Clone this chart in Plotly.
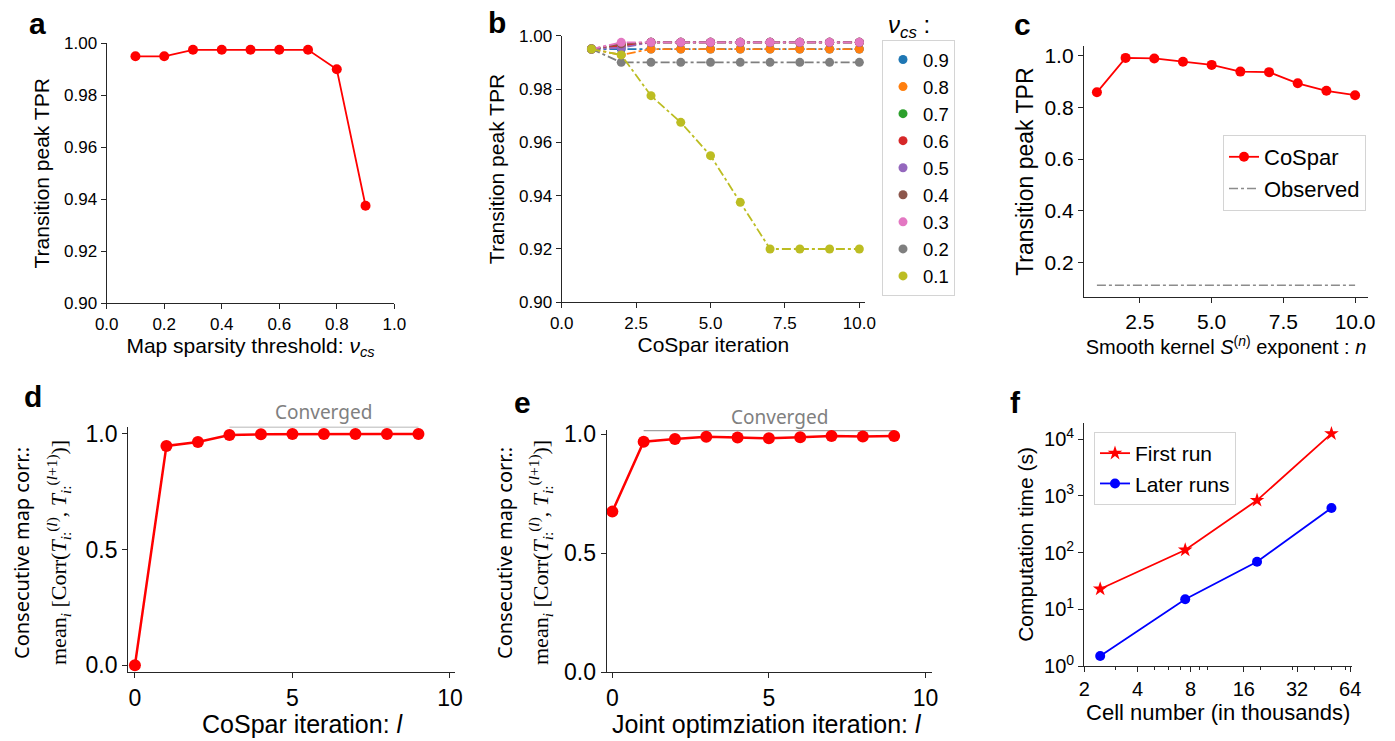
import plotly.graph_objects as go

W, H = 1395, 741
SANS = "Liberation Sans, Arial, sans-serif"
SEG = "Noto Sans, Open Sans, sans-serif"
SERIF = "Liberation Serif, DejaVu Serif, serif"

# ---------------- data ----------------
# Panel a
sparsity_thresholds = [0.1, 0.2, 0.3, 0.4, 0.5, 0.6, 0.7, 0.8, 0.9]
tpr_vs_threshold = [0.995, 0.995, 0.9975, 0.9975, 0.9975, 0.9975, 0.9975, 0.990, 0.9375]

# Panel b
cospar_iterations = [1, 2, 3, 4, 5, 6, 7, 8, 9, 10]
threshold_labels = ["0.9", "0.8", "0.7", "0.6", "0.5", "0.4", "0.3", "0.2", "0.1"]
tpr_nu_09 = [0.995, 0.995, 0.995, 0.995, 0.995, 0.995, 0.995, 0.995, 0.995, 0.995]
tpr_nu_08 = [0.995, 0.9928, 0.995, 0.995, 0.995, 0.995, 0.995, 0.995, 0.995, 0.995]
tpr_nu_07 = [0.995, 0.9965, 0.9975, 0.9975, 0.9975, 0.9975, 0.9975, 0.9975, 0.9975, 0.9975]
tpr_nu_06 = [0.995, 0.9962, 0.9975, 0.9975, 0.9975, 0.9975, 0.9975, 0.9975, 0.9975, 0.9975]
tpr_nu_05 = [0.995, 0.9955, 0.9975, 0.9975, 0.9975, 0.9975, 0.9975, 0.9975, 0.9975, 0.9975]
tpr_nu_04 = [0.995, 0.9970, 0.9975, 0.9975, 0.9975, 0.9975, 0.9975, 0.9975, 0.9975, 0.9975]
tpr_nu_03 = [0.995, 0.9975, 0.9975, 0.9975, 0.9975, 0.9975, 0.9975, 0.9975, 0.9975, 0.9975]
tpr_nu_02 = [0.995, 0.990, 0.990, 0.990, 0.990, 0.990, 0.990, 0.990, 0.990, 0.990]
tpr_nu_01 = [0.995, 0.9928, 0.9775, 0.9675, 0.955, 0.9375, 0.920, 0.920, 0.920, 0.920]
tpr_by_threshold = [tpr_nu_09, tpr_nu_08, tpr_nu_07, tpr_nu_06, tpr_nu_05,
                    tpr_nu_04, tpr_nu_03, tpr_nu_02, tpr_nu_01]
threshold_colors = ["#1f77b4", "#ff7f0e", "#2ca02c", "#d62728", "#9467bd",
                    "#8c564b", "#e377c2", "#7f7f7f", "#bcbd22"]

# Panel c
kernel_exponents = [1, 2, 3, 4, 5, 6, 7, 8, 9, 10]
tpr_cospar = [0.858, 0.991, 0.989, 0.976, 0.964, 0.938, 0.936, 0.893, 0.864, 0.847]
observed_x = [1, 10]
observed_tpr = [0.113, 0.113]

# Panel d
cospar_iter_l = [0, 1, 2, 3, 4, 5, 6, 7, 8, 9]
corr_cospar = [0.0, 0.947, 0.964, 0.994, 0.997, 0.998, 0.998, 0.998, 0.998, 0.998]
converged_d_x = [3, 9]
converged_d_y = [1.03, 1.03]

# Panel e
joint_iter_l = [0, 1, 2, 3, 4, 5, 6, 7, 8, 9]
corr_joint = [0.674, 0.968, 0.979, 0.989, 0.985, 0.982, 0.987, 0.992, 0.990, 0.992]
converged_e_x = [1, 9]
converged_e_y = [1.015, 1.015]

# Panel f
cell_number_k = [2.46, 7.45, 19.0, 50.1]
time_first_run = [22.8, 111, 835, 12500]
time_later_runs = [1.5, 15, 69, 612]
f_xticks = [2, 4, 8, 16, 32, 64]
f_xminor = [3, 5, 6, 7, 9, 10, 20, 30, 40, 50, 60]
f_yticks = [1, 10, 100, 1000, 10000]
f_yticktext = ["10<sup>0</sup>", "10<sup>1</sup>", "10<sup>2</sup>", "10<sup>3</sup>", "10<sup>4</sup>"]


def fx(px):
    return px / W


def fy(py):
    return 1 - py / H


fig = go.Figure()

# ---------------- traces ----------------
fig.add_trace(go.Scatter(x=sparsity_thresholds, y=tpr_vs_threshold, mode="lines+markers",
                         line=dict(color="#ff0000", width=1.8),
                         marker=dict(color="#ff0000", size=10),
                         xaxis="x", yaxis="y", showlegend=False, cliponaxis=False))

for lab, vals, col in zip(threshold_labels, tpr_by_threshold, threshold_colors):
    fig.add_trace(go.Scatter(x=cospar_iterations, y=vals, mode="lines+markers",
                             line=dict(color=col, width=1.8, dash="dashdot"),
                             marker=dict(color=col, size=9),
                             xaxis="x2", yaxis="y2", showlegend=False, cliponaxis=False))
for lab, col in zip(threshold_labels, threshold_colors):
    fig.add_trace(go.Scatter(x=[None], y=[None], mode="markers", name=lab,
                             marker=dict(color=col, size=9),
                             xaxis="x2", yaxis="y2", showlegend=True, legend="legend"))

fig.add_trace(go.Scatter(x=kernel_exponents, y=tpr_cospar, mode="lines+markers", name="CoSpar",
                         line=dict(color="#ff0000", width=1.8),
                         marker=dict(color="#ff0000", size=10),
                         xaxis="x3", yaxis="y3", legend="legend2", cliponaxis=False))
fig.add_trace(go.Scatter(x=observed_x, y=observed_tpr, mode="lines", name="Observed",
                         line=dict(color="#8c8c8c", width=1.5, dash="dashdot"),
                         xaxis="x3", yaxis="y3", legend="legend2", cliponaxis=False))

fig.add_trace(go.Scatter(x=converged_d_x, y=converged_d_y, mode="lines",
                         line=dict(color="#a0a0a0", width=1.5),
                         xaxis="x4", yaxis="y4", showlegend=False, cliponaxis=False))
fig.add_trace(go.Scatter(x=cospar_iter_l, y=corr_cospar, mode="lines+markers",
                         line=dict(color="#ff0000", width=2.5),
                         marker=dict(color="#ff0000", size=12),
                         xaxis="x4", yaxis="y4", showlegend=False, cliponaxis=False))

fig.add_trace(go.Scatter(x=converged_e_x, y=converged_e_y, mode="lines",
                         line=dict(color="#a0a0a0", width=1.5),
                         xaxis="x5", yaxis="y5", showlegend=False, cliponaxis=False))
fig.add_trace(go.Scatter(x=joint_iter_l, y=corr_joint, mode="lines+markers",
                         line=dict(color="#ff0000", width=2.5),
                         marker=dict(color="#ff0000", size=12),
                         xaxis="x5", yaxis="y5", showlegend=False, cliponaxis=False))

fig.add_trace(go.Scatter(x=cell_number_k, y=time_first_run, mode="lines+markers", name="First run",
                         line=dict(color="#ff0000", width=1.8),
                         marker=dict(color="#ff0000", size=11, symbol="star"),
                         xaxis="x6", yaxis="y6", legend="legend3", cliponaxis=False))
fig.add_trace(go.Scatter(x=cell_number_k, y=time_later_runs, mode="lines+markers", name="Later runs",
                         line=dict(color="#0000ff", width=1.8),
                         marker=dict(color="#0000ff", size=10),
                         xaxis="x6", yaxis="y6", legend="legend3", cliponaxis=False))

# ---------------- axes ----------------
AX = dict(showline=True, linecolor="#262626", linewidth=1.3, ticks="outside", ticklen=5,
          tickwidth=1.3, tickcolor="#262626", showgrid=False, zeroline=False,
          fixedrange=True, automargin=False)


def axx(dom, anchor, rng, title, tfont, tickfont, standoff, **kw):
    d = dict(AX)
    d.update(domain=[fx(dom[0]), fx(dom[1])], anchor=anchor, range=rng,
             tickfont=dict(size=tickfont, family=SANS, color="#000"))
    if title:
        d["title"] = dict(text=title, font=dict(size=tfont, family=SANS, color="#000"), standoff=standoff)
    d.update(kw)
    return d


def axy(dom, anchor, rng, title, tfont, tickfont, standoff, **kw):
    d = dict(AX)
    d.update(domain=[fy(dom[1]), fy(dom[0])], anchor=anchor, range=rng,
             tickfont=dict(size=tickfont, family=SANS, color="#000"))
    if title:
        d["title"] = dict(text=title, font=dict(size=tfont, family=SANS, color="#000"), standoff=standoff)
    d.update(kw)
    return d


layout = dict(
    template="none",
    width=W, height=H, margin=dict(l=0, r=0, t=0, b=0, autoexpand=False),
    plot_bgcolor="white", paper_bgcolor="white",
    font=dict(family=SANS, color="#000"),
)

layout["xaxis"] = axx((106.7, 394.3), "y", [0, 1.0], "Map sparsity threshold: <i>ν<sub>cs</sub></i>",
                      21, 17, 5, tickvals=[0, 0.2, 0.4, 0.6, 0.8, 1.0], tickformat=".1f")
layout["yaxis"] = axy((43.3, 303.3), "x", [0.9, 1.0], "Transition peak TPR", 21, 17, 8,
                      tickvals=[0.90, 0.92, 0.94, 0.96, 0.98, 1.00], tickformat=".2f")

layout["xaxis2"] = axx((561.7, 865), "y2", [0, 10.19], "CoSpar iteration", 21, 17, 5,
                       tickvals=[0, 2.5, 5, 7.5, 10], tickformat=".1f")
layout["yaxis2"] = axy((35.7, 302.3), "x2", [0.9, 1.0], "Transition peak TPR", 21, 17, 8,
                       tickvals=[0.90, 0.92, 0.94, 0.96, 0.98, 1.00], tickformat=".2f")

layout["xaxis3"] = axx((1084, 1368), "y3", [0.55, 10.45],
                       "Smooth kernel <i>S</i><sup>(<i>n</i>)</sup> exponent : <i>n</i>", 20, 21, 2,
                       tickvals=[2.5, 5, 7.5, 10], tickformat=".1f")
layout["yaxis3"] = axy((46, 297.3), "x3", [0.066, 1.037], "Transition peak TPR", 23, 21, 4,
                       tickvals=[0.2, 0.4, 0.6, 0.8, 1.0], tickformat=".1f")

layout["xaxis4"] = axx((128.3, 455), "y4", [-0.21, 10.16], None, 24, 23, 0,
                       tickvals=[0, 5, 10])
layout["yaxis4"] = axy((426.7, 672.3), "x4", [-0.03, 1.03], None, 20, 23, 4,
                       tickvals=[0, 0.5, 1.0], tickformat=".1f")

layout["xaxis5"] = axx((606.7, 931.7), "y5", [-0.18, 10.2], None, 24, 23, 0,
                       tickvals=[0, 5, 10])
layout["yaxis5"] = axy((430, 672), "x5", [0, 1.017], None, 20, 23, 4,
                       tickvals=[0, 0.5, 1.0], tickformat=".1f")

layout["xaxis6"] = axx((1084.3, 1352), "y6", [0.30103, 1.8162], "Cell number (in thousands)", 22, 20, 4,
                       type="log", tickvals=f_xticks, ticktext=[str(v) for v in f_xticks],
                       minor=dict(tickmode="array", tickvals=f_xminor, ticks="outside", ticklen=3,
                                  tickwidth=1, tickcolor="#262626"))
layout["yaxis6"] = axy((422.7, 666), "x6", [0, 4.29], "Computation time (s)", 21, 20, 4,
                       type="log", tickvals=f_yticks, ticktext=f_yticktext)

LEG = dict(bgcolor="white", bordercolor="#d4d4d4", borderwidth=1, xanchor="left", yanchor="top",
           tracegroupgap=0)
layout["legend"] = dict(LEG, x=fx(882), y=fy(40), font=dict(size=18.5, family=SANS, color="#000"),
                        itemwidth=30)
layout["legend2"] = dict(LEG, x=fx(1223), y=fy(135), font=dict(size=22, family=SANS, color="#000"),
                         itemwidth=30)
layout["legend3"] = dict(LEG, x=fx(1094), y=fy(432), font=dict(size=21, family=SANS, color="#000"),
                         itemwidth=30)

fig.update_layout(**layout)

# ---------------- annotations ----------------
ann = []
for letter, px, py in [("a", 37, 24), ("b", 497, 23), ("c", 1023, 25),
                       ("d", 33, 397), ("e", 522, 402), ("f", 1015, 402)]:
    ann.append(dict(text=f"<b>{letter}</b>", x=fx(px), y=fy(py), xref="paper", yref="paper",
                    showarrow=False, xanchor="center", yanchor="middle",
                    font=dict(size=30, family=SANS, color="#000")))

ann.append(dict(text="<i>ν</i><sub><i>cs</i></sub> :", x=fx(909), y=fy(26), xref="paper", yref="paper",
                showarrow=False, xanchor="center", yanchor="middle",
                font=dict(size=24, family=SANS, color="#000")))

ann.append(dict(text="Converged", x=6.0, y=fy(411.7), xref="x4", yref="paper", showarrow=False,
                xanchor="center", yanchor="middle", font=dict(size=19, family=SEG, color="#808080")))
ann.append(dict(text="Converged", x=5.35, y=fy(416.7), xref="x5", yref="paper", showarrow=False,
                xanchor="center", yanchor="middle", font=dict(size=19, family=SEG, color="#808080")))

# x-axis titles of d and e (placed explicitly to stay inside the page)
ann.append(dict(text="CoSpar iteration: <i>l</i>", x=fx(303), y=fy(740), xref="paper", yref="paper",
                showarrow=False, xanchor="center", yanchor="bottom",
                font=dict(size=25, family=SANS, color="#000")))
ann.append(dict(text="Joint optimziation iteration: <i>l</i>", x=fx(767), y=fy(740), xref="paper",
                yref="paper", showarrow=False, xanchor="center", yanchor="bottom",
                font=dict(size=25, family=SANS, color="#000")))

formula = ("mean<sub><i>i</i></sub> [Corr(<i>T</i><sub><i>i</i>:</sub><sup>(<i>l</i>)</sup>, "
           "<i>T</i><sub><i>i</i>:</sub><sup>(<i>l</i>+1)</sup>)]")
for cx1, cx2, cy in [(21, 58, 553), (504, 540, 553)]:
    ann.append(dict(text="Consecutive map corr.:", x=fx(cx1), y=fy(cy), xref="paper", yref="paper",
                    showarrow=False, textangle=-90, xanchor="center", yanchor="middle",
                    font=dict(size=20, family=SEG, color="#000")))
    ann.append(dict(text=formula, x=fx(cx2), y=fy(cy), xref="paper", yref="paper",
                    showarrow=False, textangle=-90, xanchor="center", yanchor="middle",
                    font=dict(size=22, family=SERIF, color="#000")))

fig.update_layout(annotations=ann)

# remove the default page margin so the figure sits exactly in the window
fig.write_html("out.html",
               config={"displayModeBar": False},
               post_script="document.body.style.margin='0';document.body.style.padding='0';"
                           "document.body.style.overflow='hidden';")
